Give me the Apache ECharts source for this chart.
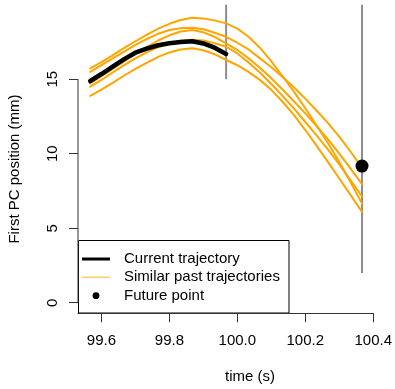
<!DOCTYPE html>
<html>
<head>
<meta charset="utf-8">
<script src="https://cdn.jsdelivr.net/npm/echarts@6/dist/echarts.min.js"></script>
<style>
  html, body { margin: 0; padding: 0; background: #fff; }
  #chart { width: 395px; height: 389px; }
</style>
</head>
<body>
<div id="chart"></div>
<script>
// Time stamps (s), sampled at 30 Hz
const time = [99.567, 99.6, 99.633, 99.667, 99.7, 99.733, 99.767, 99.8, 99.833,
  99.867, 99.9, 99.933, 99.967, 100.0, 100.033, 100.067, 100.1, 100.133, 100.167,
  100.2, 100.233, 100.267, 100.3, 100.333, 100.367];

// Current trajectory: first PC position (mm), first 13 samples
const current = [14.88, 15.35, 15.85, 16.35, 16.78, 17.05, 17.28, 17.42, 17.5,
  17.55, 17.4, 17.12, 16.7];

// Similar past trajectories (mm), full 25 samples each
const past1 = [15.73, 16.15, 16.6, 17.1, 17.55, 17.98, 18.4, 18.72, 18.98, 19.12,
  19.08, 18.95, 18.75, 18.4, 17.85, 17.1, 16.2, 15.2, 14.15, 13.05, 11.9, 10.7,
  9.45, 8.1, 6.65];
const past2 = [15.5, 15.95, 16.4, 16.85, 17.3, 17.7, 18.05, 18.3, 18.42, 18.46,
  18.35, 18.12, 17.85, 17.45, 17.0, 16.4, 15.8, 15.15, 14.45, 13.7, 12.9, 12.05,
  11.15, 10.15, 9.05];
const past3 = [14.72, 15.2, 15.7, 16.2, 16.7, 17.15, 17.6, 17.95, 18.2, 18.3,
  18.15, 17.85, 17.41, 16.96, 16.41, 15.76, 15.06, 14.31, 13.51, 12.71, 11.86,
  10.96, 10.01, 9.01, 7.96];
const past4 = [14.5, 14.95, 15.45, 15.95, 16.4, 16.8, 17.15, 17.4, 17.58, 17.65,
  17.6, 17.42, 17.18, 16.73, 16.13, 15.43, 14.68, 13.88, 13.03, 12.13, 11.23,
  10.28, 9.28, 8.23, 7.13];
const past5 = [13.89, 14.3, 14.75, 15.25, 15.7, 16.1, 16.5, 16.8, 17.0, 17.08,
  16.95, 16.68, 16.29, 15.94, 15.49, 14.94, 14.29, 13.49, 12.59, 11.59, 10.54,
  9.44, 8.34, 7.24, 6.09];

// Future point (time, position)
const futureTime = 100.367;
const futureValue = 9.17;

// Reference marks: end of current window and the forecast time
const nowMarker = [[99.967, 15], [99.967, 20]];
const futureMarker = [[100.367, 2], [100.367, 20]];

// Tick labels
const xTicks = [99.6, 99.8, 100.0, 100.2, 100.4];
const yTicks = [0, 5, 10, 15];

const X_MIN = 99.531, X_MAX = 100.401;
const Y_MIN = -0.711, Y_MAX = 20.05;

const FONT = '"Liberation Sans", Arial, Helvetica, sans-serif';
const AXIS_COLOR = '#333';

const zip = (xs, ys) => ys.map((y, i) => [xs[i], y]);
const pastSets = [past1, past2, past3, past4, past5];

const series = [];
// vertical reference segments
[nowMarker, futureMarker].forEach(seg => series.push({
  type: 'line', data: seg, symbol: 'none', silent: true, z: 1,
  lineStyle: { color: '#8c8c8c', width: 2 }
}));
// y axis line, spanning first to last tick
series.push({
  type: 'line', data: [[X_MIN, yTicks[0]], [X_MIN, yTicks[yTicks.length - 1]]],
  symbol: 'none', silent: true, clip: false, z: 1,
  lineStyle: { color: AXIS_COLOR, width: 1 }
});
pastSets.forEach(ys => series.push({
  type: 'line', data: zip(time, ys), symbol: 'none', silent: true, z: 2,
  lineStyle: { color: '#FFA500', width: 2, cap: 'round', join: 'round' }
}));
series.push({
  type: 'line', data: zip(time, current), symbol: 'none', silent: true, z: 3,
  lineStyle: { color: '#000', width: 4.5, cap: 'round', join: 'round' }
});
series.push({
  type: 'scatter', data: [[futureTime, futureValue]], symbol: 'circle',
  symbolSize: 13, silent: true, z: 4, itemStyle: { color: '#000', opacity: 1 }
});

const chart = echarts.init(document.getElementById('chart'), null, { renderer: 'canvas' });
chart.setOption({
  animation: false,
  backgroundColor: '#fff',
  grid: { left: 78, top: 4, width: 298, height: 309.3, containLabel: false },
  xAxis: {
    type: 'value', min: X_MIN, max: X_MAX,
    splitLine: { show: false },
    axisLine: { show: true, onZero: false, lineStyle: { color: AXIS_COLOR, width: 1 } },
    axisTick: { show: true, length: 9, customValues: xTicks, lineStyle: { color: AXIS_COLOR } },
    axisLabel: {
      customValues: xTicks, margin: 20, color: '#000',
      fontFamily: FONT, fontSize: 15, formatter: v => v.toFixed(1)
    }
  },
  yAxis: {
    type: 'value', min: Y_MIN, max: Y_MAX,
    splitLine: { show: false },
    axisLine: { show: false },
    axisTick: { show: true, length: 9, customValues: yTicks, lineStyle: { color: AXIS_COLOR } },
    axisLabel: {
      customValues: yTicks, margin: 18, rotate: 90, color: '#000',
      fontFamily: FONT, fontSize: 15, formatter: v => String(v)
    }
  },
  series: series,
  graphic: [
    { type: 'text', x: 250, y: 377, silent: true,
      style: { text: 'time (s)', fill: '#000', font: '15px ' + FONT, align: 'center', verticalAlign: 'middle' } },
    { type: 'text', x: 15, y: 169, rotation: Math.PI / 2, silent: true,
      style: { text: 'First PC position (mm)', fill: '#000', font: '15px ' + FONT, align: 'center', verticalAlign: 'middle' } },
    { type: 'group', z: 10, silent: true, children: [
      { type: 'rect', shape: { x: 78.5, y: 240.5, width: 210.5, height: 72.5 },
        style: { fill: '#fff', stroke: '#000', lineWidth: 1 } },
      { type: 'line', shape: { x1: 82, y1: 259, x2: 110, y2: 259 },
        style: { stroke: '#000', lineWidth: 3 } },
      { type: 'line', shape: { x1: 82, y1: 277.3, x2: 110, y2: 277.3 },
        style: { stroke: '#FFCB70', lineWidth: 1.5 } },
      { type: 'circle', shape: { cx: 96, cy: 295.7, r: 3.4 }, style: { fill: '#000' } },
      { type: 'text', x: 124, y: 259,
        style: { text: 'Current trajectory', fill: '#000', font: '15px ' + FONT, verticalAlign: 'middle' } },
      { type: 'text', x: 124, y: 277.3,
        style: { text: 'Similar past trajectories', fill: '#000', font: '15px ' + FONT, verticalAlign: 'middle' } },
      { type: 'text', x: 124, y: 295.7,
        style: { text: 'Future point', fill: '#000', font: '15px ' + FONT, verticalAlign: 'middle' } }
    ] }
  ]
});
</script>
</body>
</html>
